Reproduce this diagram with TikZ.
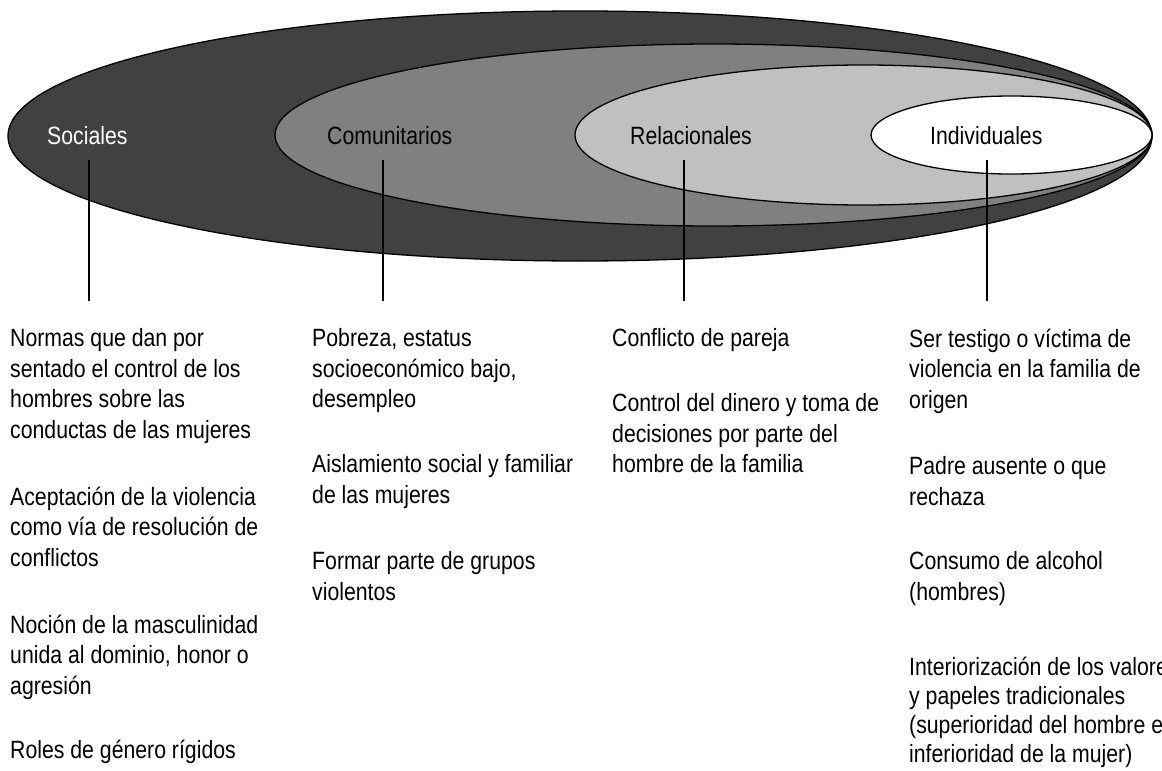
\documentclass[tikz,border=0pt]{standalone}
\usepackage{fontspec}
\setmainfont[FakeStretch=0.85]{Liberation Sans}
\definecolor{socfill}{HTML}{414141}
\definecolor{comfill}{HTML}{808080}
\definecolor{relfill}{HTML}{C0C0C0}
\begin{document}
\begin{tikzpicture}[x=1pt,y=-1pt,
  ring/.style={draw=black, line width=1.3pt},
  lbl/.style={anchor=base west, inner sep=0pt, font=\fontsize{25}{30.5}\selectfont},
  body/.style={anchor=north west, inner sep=0pt, align=left, font=\fontsize{25}{30.5}\selectfont},
  stem/.style={draw=black, line width=1.3pt}]
\useasboundingbox (0,0) rectangle (1162,771);
% ellipses
\path[ring, fill=socfill] (580,136) ellipse [x radius=572pt, y radius=125pt];
\path[ring, fill=comfill] (713.5,135) ellipse [x radius=438.5pt, y radius=91pt];
\path[ring, fill=relfill] (863.5,135) ellipse [x radius=288.5pt, y radius=70pt];
\path[ring, fill=white] (1011.5,135) ellipse [x radius=140.5pt, y radius=39pt];
% labels
\node[lbl, text=white] (soc) at (47,144) {Sociales};
\node[lbl] (com) at (327,144) {Comunitarios};
\node[lbl] (rel) at (630,144) {Relacionales};
\node[lbl] (ind) at (930,144) {Individuales};
% stems
\coordinate (s1a) at (89,160);  \coordinate (s1b) at (89,301);
\coordinate (s2a) at (383,160); \coordinate (s2b) at (383,301);
\coordinate (s3a) at (684,160); \coordinate (s3b) at (684,301);
\coordinate (s4a) at (987,160); \coordinate (s4b) at (987,301);
\draw[stem] (s1a) -- (s1b);
\draw[stem] (s2a) -- (s2b);
\draw[stem] (s3a) -- (s3b);
\draw[stem] (s4a) -- (s4b);
% column 1
\node[body] (t11) at (10,328.5) {Normas que dan por\\sentado el control de los\\hombres sobre las\\conductas de las mujeres};
\node[body] (t12) at (10,486.5) {Aceptación de la violencia\\como vía de resolución de\\conflictos};
\node[body] (t13) at (10,614.5) {Noción de la masculinidad\\unida al dominio, honor o\\agresión};
\node[body] (t14) at (10,740) {Roles de género rígidos};
% column 2
\node[body] (t21) at (312,328.5) {Pobreza, estatus\\socioeconómico bajo,\\desempleo};
\node[body] (t22) at (312,454.5) {Aislamiento social y familiar\\de las mujeres};
\node[body] (t23) at (312,551.5) {Formar parte de grupos\\violentos};
% column 3
\node[body] (t31) at (612,328.5) {Conflicto de pareja};
\node[body] (t32) at (612,393.5) {Control del dinero y toma de\\decisiones por parte del\\hombre de la familia};
% column 4
\node[body] (t41) at (909,328.5) {Ser testigo o víctima de\\violencia en la familia de\\origen};
\node[body] (t42) at (909,456.5) {Padre ausente o que\\rechaza};
\node[body] (t43) at (909,551.5) {Consumo de alcohol\\(hombres)};
\node[body, font=\fontsize{25}{29}\selectfont] (t44) at (909,657) {Interiorización de los valores\\y papeles tradicionales\\(superioridad del hombre e\\inferioridad de la mujer)};
\end{tikzpicture}
\end{document}
